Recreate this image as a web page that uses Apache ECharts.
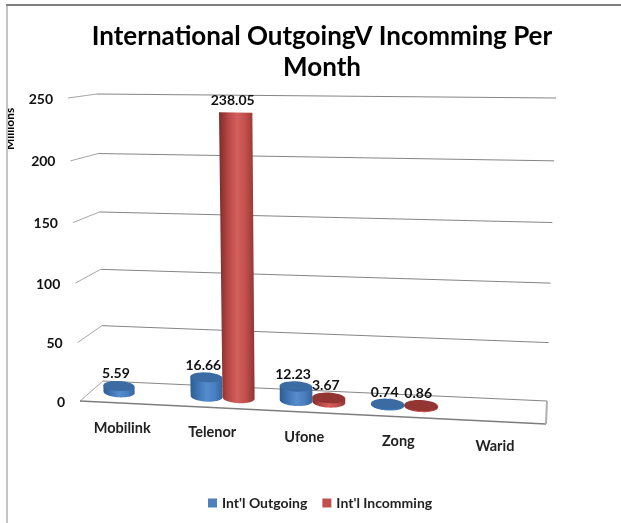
<!DOCTYPE html>
<html>
<head>
<meta charset="utf-8">
<style>html,body{margin:0;padding:0;background:#fff}#c{width:621px;height:523px}</style>
<script src="https://cdn.jsdelivr.net/npm/echarts@6/dist/echarts.min.js"></script>
</head>
<body>
<div id="c"></div>
<script>
const categories = ['Mobilink', 'Telenor', 'Ufone', 'Zong', 'Warid'];
const yTicks = [0, 50, 100, 150, 200, 250];
const outgoing = [5.59, 16.66, 12.23, 0.74, null];
const incoming = [null, 238.05, 3.67, 0.86, null];
const titleText = 'International OutgoingV Incomming Per\nMonth';
const FONT = 'Lato';

// flat plot rectangle used by the hidden cartesian axes
const G = {left: 103, top: 94, width: 444, height: 287};
// perspective corners of the drawn 3D box
const BL0 = [103, 381], BR0 = [547, 401], BL1 = [97, 94], BR1 = [556, 98];
const FL0 = [80, 401], FR0 = [546, 424], FL1 = [68, 98], FR1 = [556, 103];
const lerp = (a, b, t) => a + (b - a) * t;
const lerp2 = (a, b, t) => [lerp(a[0], b[0], t), lerp(a[1], b[1], t)];
// flat pixel from the axes -> projected pixel; d: 0 front, 1 back
function project(px, py, d) {
  const u = (px - G.left) / G.width, t0 = (G.top + G.height - py) / G.height;
  const f = u / (1 + 0.06 * (1 - u));
  const t = t0 / (1 + 0.047 * (1 - t0));
  const back = lerp2(lerp2(BL0, BL1, t), lerp2(BR0, BR1, t), f);
  const front = lerp2(lerp2(FL0, FL1, t), lerp2(FR0, FR1, t), f);
  return lerp2(front, back, d);
}
const grad = stops => new echarts.graphic.LinearGradient(0, 0, 1, 0,
  stops.map((c, i) => ({offset: i / (stops.length - 1), color: c})));

function cylinderRenderer(side, stops, topColor) {
  return function (params, api) {
    const i = api.value(0), v = api.value(1);
    const base = api.coord([i, 0]), head = api.coord([i, v]);
    const band = api.size([1, 0])[0];
    const w = band * 0.18;
    const cx = base[0] + side * w;
    const ring = (py, half) => {
      const L = project(cx - w, py, 0.5), R = project(cx + w, py, 0.5);
      const C = [(L[0] + R[0]) / 2, (L[1] + R[1]) / 2];
      const ry = (project(cx, py, 0)[1] - project(cx, py, 1)[1]) * 0.25;
      const pts = [];
      const n = 36;
      for (let k = 0; k <= n; k++) {
        const th = half ? Math.PI - Math.PI * k / n : 2 * Math.PI * k / n;
        const c = Math.cos(th), s = Math.sin(th);
        pts.push([C[0] + (R[0] - C[0]) * c, C[1] + (R[1] - C[1]) * c + ry * s]);
      }
      return {pts, C, ry};
    };
    const bottom = ring(base[1], true);
    const top = ring(head[1], false);
    const R = project(cx + w, head[1], 0.5), L = project(cx - w, head[1], 0.5);
    const body = [L].concat(bottom.pts).concat([R]);
    const children = [
      {type: 'polygon', shape: {points: body}, style: {fill: grad(stops)}}
    ];
    // near eye level the top disc collapses into the body's flat end
    if (top.ry >= 2) {
      children.push({type: 'polygon', shape: {points: top.pts}, style: {fill: topColor}});
    }
    children.push({type: 'text', style: {
      text: String(v), x: top.C[0] - 3, y: top.C[1] - 12,
      align: 'center', verticalAlign: 'middle',
      font: 'bold 14px ' + FONT, fill: '#111'
    }});
    return {type: 'group', children};
  };
}

function bandEdges(api) {
  const band = api.size([1, 0])[0];
  return [api.coord([0, 0])[0] - band / 2, api.coord([categories.length - 1, 0])[0] + band / 2];
}

const option = {
  animation: false,
  backgroundColor: '#fff',
  title: {
    text: titleText, left: 317, top: 16, textAlign: 'center',
    textStyle: {fontFamily: FONT, fontWeight: 'bold', fontSize: 26, lineHeight: 31, color: '#000'}
  },
  legend: {
    data: ["Int'l Outgoing", "Int'l Incomming"],
    left: 203, top: 491, itemWidth: 9, itemHeight: 9, itemGap: 15, icon: 'rect',
    textStyle: {fontFamily: FONT, fontWeight: 'bold', fontSize: 14, color: '#222'}
  },
  grid: {left: G.left, top: G.top, width: G.width, height: G.height},
  xAxis: {type: 'category', data: categories, show: false},
  yAxis: {type: 'value', min: 0, max: 250, interval: 50, show: false},
  graphic: [
    {type: 'text', z: 5, rotation: Math.PI / 2, x: 4, y: 150, silent: true,
      style: {text: 'Millions', font: 'bold 12px ' + FONT, fill: '#000', align: 'left', verticalAlign: 'top'}},
    {type: 'rect', z: 6, shape: {x: 0, y: 0, width: 6, height: 523}, style: {fill: '#fff'}, silent: true},
    {type: 'rect', z: 7, shape: {x: 6, y: 4, width: 2, height: 519}, style: {fill: '#c4c4c4'}, silent: true},
    {type: 'rect', z: 7, shape: {x: 6, y: 4, width: 615, height: 2}, style: {fill: '#808080'}, silent: true}
  ],
  series: [
    {
      name: 'gridlines', type: 'custom', silent: true, z: 1,
      data: yTicks.map(t => [0, t]),
      encode: {x: 0, y: 1},
      renderItem(params, api) {
        const v = api.value(1);
        const [x0, x1] = bandEdges(api);
        const py = api.coord([0, v])[1];
        const a = project(x0, py, 0), b = project(x0, py, 1), c = project(x1, py, 1);
        const children = [
          {type: 'polyline', shape: {points: [a, b]}, style: {stroke: '#a6a6a6', lineWidth: 1, fill: null}},
          {type: 'polyline', shape: {points: [b, c]}, style: {stroke: '#858585', lineWidth: 1, fill: null}},
          {type: 'text', style: {text: String(v), x: a[0] - 15, y: a[1] + 1, align: 'right', verticalAlign: 'middle',
            font: 'bold 14px ' + FONT, fill: '#111'}}
        ];
        if (v === 0) {
          const d = project(x1, py, 0);
          children.push(
            {type: 'polyline', shape: {points: [a, d]}, style: {stroke: '#7d7d7d', lineWidth: 1.5, fill: null}},
            {type: 'polyline', shape: {points: [d, c]}, style: {stroke: '#b0b0b0', lineWidth: 2, fill: null}}
          );
        }
        return {type: 'group', children};
      }
    },
    {
      name: 'category labels', type: 'custom', silent: true, z: 1,
      data: categories.map((c, i) => [i, 0]),
      encode: {x: 0, y: 1},
      renderItem(params, api) {
        const i = api.value(0);
        const p = api.coord([i, 0]);
        const q = project(p[0], p[1], 0);
        return {type: 'text', style: {text: categories[i], x: q[0] - 2, y: q[1] + 25, align: 'center', verticalAlign: 'middle',
          font: 'bold 14.5px ' + FONT, fill: '#222'}};
      }
    },
    {
      name: "Int'l Outgoing", type: 'custom', z: 3, itemStyle: {color: '#4f81bd'},
      data: outgoing.map((v, i) => [i, v]).filter(d => d[1] !== null),
      encode: {x: 0, y: 1},
      renderItem: cylinderRenderer(-1, ['#2c5d92', '#3f74b4', '#558ccd', '#4a80c0', '#34659c'], '#3a6ba3')
    },
    {
      name: "Int'l Incomming", type: 'custom', z: 4, itemStyle: {color: '#c0504d'},
      data: incoming.map((v, i) => [i, v]).filter(d => d[1] !== null),
      encode: {x: 0, y: 1},
      renderItem: cylinderRenderer(1, ['#7a2c2a', '#b64744', '#d45f5d', '#c24f4c', '#8e3634'], '#933532')
    }
  ]
};
echarts.init(document.getElementById('c')).setOption(option);
</script>
</body>
</html>
